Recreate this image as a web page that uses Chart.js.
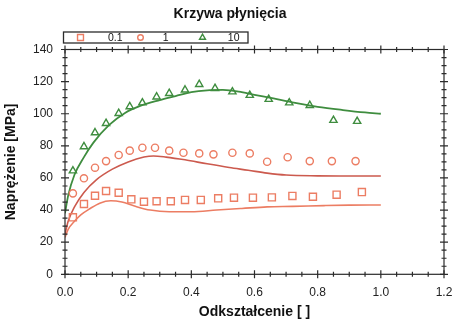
<!DOCTYPE html>
<html lang="pl">
<head>
<meta charset="UTF-8">
<title>Krzywa płynięcia</title>
<script src="https://cdn.jsdelivr.net/npm/chart.js"></script>
<style>
  html, body { margin: 0; padding: 0; background: #fff; }
</style>
</head>
<body>
<canvas id="myChart" width="460" height="326"></canvas>
<script>
const chartTitle = 'Krzywa płynięcia';
const xTitle = 'Odkształcenie [ ]';
const yTitle = 'Naprężenie [MPa]';
const seriesNames = ['0.1', '1', '10'];

// pomiary, prędkość 0.1
const strain01 = [0.025, 0.06, 0.095, 0.13, 0.17, 0.21, 0.25, 0.29, 0.335, 0.38, 0.43, 0.485, 0.535, 0.595, 0.655, 0.72, 0.785, 0.86, 0.94];
const stress01 = [35.5, 43.8, 48.9, 51.9, 50.8, 46.7, 45.2, 45.5, 45.5, 46.3, 46.3, 47.3, 47.7, 47.7, 47.9, 48.8, 48.3, 49.6, 51.2];

// pomiary, prędkość 1
const strain1 = [0.025, 0.06, 0.095, 0.13, 0.17, 0.205, 0.245, 0.285, 0.33, 0.375, 0.425, 0.47, 0.53, 0.585, 0.64, 0.705, 0.775, 0.845, 0.92];
const stress1 = [50.4, 59.8, 66.4, 70.5, 74.3, 77.0, 78.8, 78.8, 77.0, 75.7, 75.3, 74.7, 75.7, 75.3, 70.1, 72.9, 70.5, 70.5, 70.5];

// pomiary, prędkość 10
const strain10 = [0.025, 0.06, 0.095, 0.13, 0.17, 0.205, 0.245, 0.29, 0.33, 0.38, 0.425, 0.475, 0.53, 0.585, 0.645, 0.71, 0.775, 0.85, 0.925];
const stress10 = [64.5, 79.5, 88.2, 94.0, 100.2, 104.4, 106.8, 110.5, 112.7, 114.8, 118.3, 115.8, 113.7, 111.5, 109.0, 106.8, 105.2, 95.9, 95.3];

// krzywe modelu
const fitStrain01 = [0, 0.01, 0.03, 0.05, 0.08, 0.11, 0.145, 0.18, 0.22, 0.27, 0.33, 0.40, 0.48, 0.56, 0.64, 0.72, 0.82, 0.9, 1.0];
const fitStress01 = [23, 28, 33, 37, 41, 44.3, 45.8, 45, 42.5, 40, 39, 39, 40, 41, 42, 42.3, 42.8, 43.1, 43.2];

const fitStrain1 = [0, 0.01, 0.03, 0.06, 0.1, 0.15, 0.2, 0.25, 0.28, 0.32, 0.38, 0.45, 0.52, 0.58, 0.64, 0.7, 0.8, 0.9, 1.0];
const fitStress1 = [25, 33, 42, 51, 59, 65.5, 70, 73, 73.7, 73, 71.3, 68.8, 66.5, 64.8, 63, 61.8, 61.3, 61.2, 61.2];

const fitStrain10 = [0, 0.01, 0.03, 0.06, 0.09, 0.14, 0.19, 0.24, 0.30, 0.35, 0.40, 0.45, 0.50, 0.55, 0.60, 0.66, 0.72, 0.80, 0.88, 0.95, 1.0];
const fitStress10 = [38, 49, 62, 73, 82, 93, 100.5, 105, 108.5, 111, 113.5, 114.6, 114.8, 113.8, 111.8, 109.5, 107, 104.3, 102.3, 100.8, 100];

const toPoints = (xs, ys) => xs.map((x, i) => ({ x: x, y: ys[i] }));

const salmon = '#ec7d63';
const darkRed = '#cc5a4e';
const green = '#3f8d3f';

Chart.defaults.font.family = '"Liberation Sans", Arial, sans-serif';
Chart.defaults.color = '#222';

// ramka wykresu z podziałką na wszystkich czterech bokach
const frameTicks = {
    id: 'frameTicks',
    afterDraw(chart) {
        const { ctx, chartArea: a, scales } = chart;
        ctx.save();
        ctx.strokeStyle = '#2b2b2b';
        ctx.lineWidth = 1.2;
        ctx.strokeRect(a.left, a.top, a.right - a.left, a.bottom - a.top);
        ctx.beginPath();
        for (let i = 0; i <= 24; i++) {
            const px = scales.x.getPixelForValue(i * 0.05);
            const len = i % 4 === 0 ? 4 : 2.5;
            ctx.moveTo(px, a.bottom - len); ctx.lineTo(px, a.bottom + len);
            ctx.moveTo(px, a.top - len); ctx.lineTo(px, a.top + len);
        }
        for (let i = 0; i <= 28; i++) {
            const py = scales.y.getPixelForValue(i * 5);
            const len = i % 4 === 0 ? 4 : 2.5;
            ctx.moveTo(a.left - len, py); ctx.lineTo(a.left + len, py);
            ctx.moveTo(a.right - len, py); ctx.lineTo(a.right + len, py);
        }
        ctx.stroke();
        ctx.restore();
    }
};

// tytuł i legenda w ramce nad wykresem
const headerLegend = {
    id: 'headerLegend',
    afterDraw(chart) {
        const ctx = chart.ctx;
        ctx.save();
        ctx.fillStyle = '#111';
        ctx.font = 'bold 14px "Liberation Sans", Arial, sans-serif';
        ctx.textAlign = 'center';
        ctx.textBaseline = 'middle';
        ctx.fillText(chartTitle, 230, 14);

        const box = { left: 63.5, top: 32, width: 184.5, height: 11 };
        ctx.strokeStyle = '#2b2b2b';
        ctx.lineWidth = 1.3;
        ctx.strokeRect(box.left, box.top, box.width, box.height);

        const markerX = [17, 77, 139];
        const textRight = [59, 105, 176];
        const cy = box.top + box.height / 2;
        const items = chart.data.datasets.filter(ds => ds.inLegend);
        ctx.font = '10.5px "Liberation Sans", Arial, sans-serif';
        ctx.textAlign = 'right';
        items.forEach((ds, i) => {
            ctx.strokeStyle = ds.borderColor;
            ctx.fillStyle = ds.backgroundColor;
            ctx.lineWidth = ds.borderWidth;
            Chart.helpers.drawPoint(ctx, { pointStyle: ds.pointStyle, rotation: 0, radius: ds.pointRadius - 0.8, borderWidth: ds.borderWidth }, box.left + markerX[i], cy);
            ctx.fillStyle = '#111';
            ctx.fillText(ds.label, box.left + textRight[i], cy + 0.5);
        });
        ctx.restore();
    }
};

const markerSet = (label, xs, ys, style, color, radius) => ({
    type: 'scatter',
    label: label,
    inLegend: true,
    data: toPoints(xs, ys),
    pointStyle: style,
    pointRadius: radius,
    pointHoverRadius: radius,
    borderColor: color,
    backgroundColor: 'rgba(255,255,255,0)',
    borderWidth: 1.4,
    showLine: false
});

const curveSet = (xs, ys, color, width) => ({
    type: 'line',
    data: toPoints(xs, ys),
    borderColor: color,
    borderWidth: width,
    pointRadius: 0,
    fill: false,
    cubicInterpolationMode: 'monotone'
});

new Chart(document.getElementById('myChart'), {
    type: 'scatter',
    data: {
        datasets: [
            markerSet(seriesNames[0], strain01, stress01, 'rect', salmon, 5),
            markerSet(seriesNames[1], strain1, stress1, 'circle', salmon, 3.6),
            markerSet(seriesNames[2], strain10, stress10, 'triangle', green, 4.2),
            curveSet(fitStrain01, fitStress01, salmon, 1.6),
            curveSet(fitStrain1, fitStress1, darkRed, 1.6),
            curveSet(fitStrain10, fitStress10, green, 1.8)
        ]
    },
    plugins: [frameTicks, headerLegend],
    options: {
        responsive: false,
        animation: false,
        layout: { padding: { left: 0, right: 16, top: 49.5, bottom: 0 } },
        plugins: {
            legend: { display: false },
            tooltip: { enabled: false }
        },
        scales: {
            x: {
                type: 'linear',
                min: 0,
                max: 1.2,
                ticks: { stepSize: 0.2, padding: 11.5, font: { size: 12 }, callback: v => v.toFixed(1) },
                grid: { display: false, drawTicks: false },
                border: { display: false },
                title: { display: true, text: xTitle, font: { size: 14, weight: 'bold' }, color: '#111', padding: { top: 2, bottom: 5.5 } },
                afterFit: s => { s.height = 51.7; s.paddingLeft = 0; s.paddingRight = 0; }
            },
            y: {
                type: 'linear',
                min: 0,
                max: 140,
                ticks: { stepSize: 20, padding: 12, font: { size: 12 } },
                grid: { display: false, drawTicks: false },
                border: { display: false },
                title: { display: true, text: yTitle, font: { size: 14, weight: 'bold' }, color: '#111', padding: { top: 3, bottom: 2 } },
                afterFit: s => { s.width = 65; s.paddingTop = 0; s.paddingBottom = 0; }
            }
        }
    }
});
</script>
</body>
</html>
